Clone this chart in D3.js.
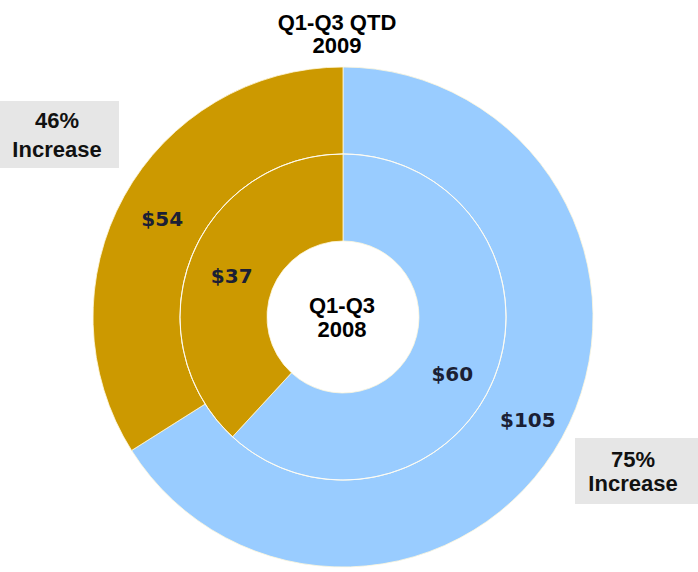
<!DOCTYPE html>
<html>
<head>
<meta charset="utf-8">
<script src="https://cdn.jsdelivr.net/npm/d3@7"></script>
<style>
  html, body { margin: 0; padding: 0; background: #fff; }
  svg { display: block; }
</style>
</head>
<body>
<div id="chart"></div>
<script>
// Year-to-date totals by segment (in $), outer ring = 2009, inner ring = 2008
const categories = ["Segment B", "Segment A"];
const values2009 = [105, 54];
const values2008 = [60, 37];
const colors = ["#99CCFF", "#CC9900"];
const titleLines = ["Q1-Q3 QTD", "2009"];
const centerLines = ["Q1-Q3", "2008"];

const width = 698, height = 572;
const cx = 343, cy = 317;
const rHole = 76, rMid = 163, rOuter = 250;

const svg = d3.select("#chart").append("svg")
  .attr("width", width).attr("height", height);

const pie = d3.pie().sort(null).value(d => d);
const g = svg.append("g").attr("transform", `translate(${cx},${cy})`);

function ring(values, r0, r1, cls) {
  const arc = d3.arc().innerRadius(r0).outerRadius(r1);
  const arcs = pie(values);
  g.selectAll("path." + cls).data(arcs).join("path")
    .attr("class", cls)
    .attr("d", arc)
    .attr("fill", (d, i) => colors[i])
    .attr("stroke", "#fff8dc")
    .attr("stroke-opacity", 0.8)
    .attr("stroke-width", 1);
  return { arc, arcs };
}

const outer = ring(values2009, rMid, rOuter, "outer");
const inner = ring(values2008, rHole, rMid, "inner");

// thin white divider between the rings
g.append("circle").attr("r", rMid).attr("fill", "none")
  .attr("stroke", "#fff").attr("stroke-opacity", 0.8).attr("stroke-width", 1);

// value labels
const valueFont = "'DejaVu Sans', Verdana, sans-serif";
function valueLabels(ringObj, offsets) {
  ringObj.arcs.forEach((d, i) => {
    const [x, y] = ringObj.arc.centroid(d);
    g.append("text")
      .attr("x", x + offsets[i][0]).attr("y", y + offsets[i][1])
      .attr("text-anchor", "middle").attr("dominant-baseline", "central")
      .attr("font-family", valueFont).attr("font-weight", "bold")
      .attr("font-size", 20).attr("fill", "#1b1f35")
      .text("$" + d.data);
  });
}
valueLabels(outer, [[4, 3], [0, 2]]);
valueLabels(inner, [[-2, 14], [0, 2]]);

const labelFont = "'Liberation Sans', Arial, sans-serif";

// title above the ring
svg.append("text")
  .attr("x", 337).attr("text-anchor", "middle")
  .attr("font-family", labelFont).attr("font-weight", "bold").attr("font-size", 22)
  .selectAll("tspan").data(titleLines).join("tspan")
  .attr("x", 337).attr("y", (d, i) => 30 + i * 23).text(d => d);

// label in the hole
svg.append("text")
  .attr("text-anchor", "middle")
  .attr("font-family", labelFont).attr("font-weight", "bold").attr("font-size", 22)
  .selectAll("tspan").data(centerLines).join("tspan")
  .attr("x", 342).attr("y", (d, i) => 313 + i * 24).text(d => d);

// growth callouts
const growth = values2009.map((v, i) => Math.round((v / values2008[i] - 1) * 100) + "%");
const boxes = [
  { i: 0, x: 575, y: 438, w: 125, h: 66, tx: 633, b1: 467, b2: 491 },
  { i: 1, x: 0, y: 101, w: 119, h: 67, tx: 57, b1: 128, b2: 157 }
];
boxes.forEach(b => {
  svg.append("rect").attr("x", b.x).attr("y", b.y).attr("width", b.w).attr("height", b.h)
    .attr("fill", "#e6e6e6");
  const t = svg.append("text").attr("text-anchor", "middle")
    .attr("font-family", labelFont).attr("font-weight", "bold").attr("font-size", 22)
    .attr("fill", "#111");
  t.append("tspan").attr("x", b.tx).attr("y", b.b1).text(growth[b.i]);
  t.append("tspan").attr("x", b.tx).attr("y", b.b2).text("Increase");
});
</script>
</body>
</html>
